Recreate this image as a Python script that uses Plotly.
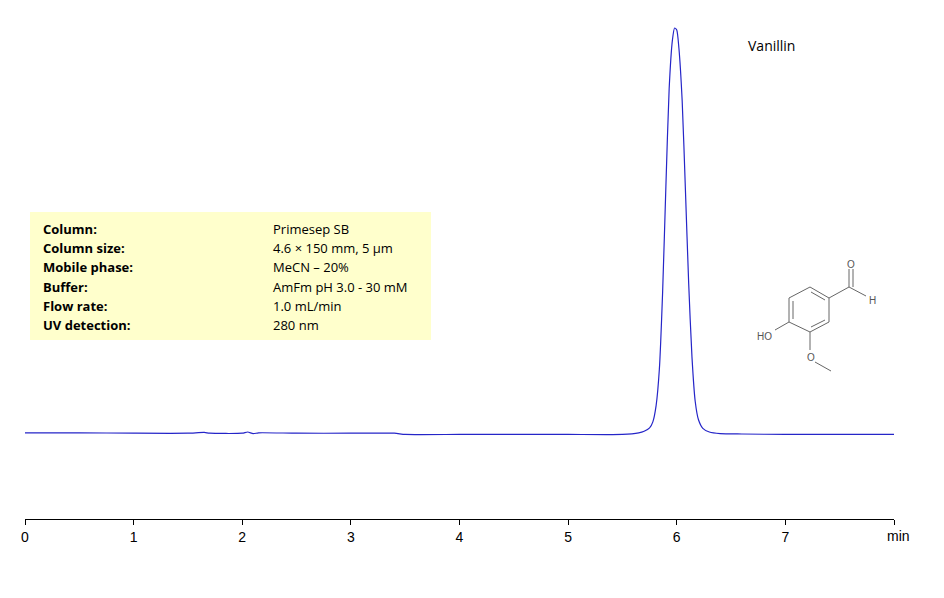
import plotly.graph_objects as go

time_min = [0, 0.5, 1.0, 1.5, 1.65, 1.7, 2.0, 2.05, 2.1, 2.15, 2.5, 3.0, 3.4, 3.5, 4.0, 4.5, 5.0, 5.5, 5.65,
            5.70, 5.75, 5.78, 5.81, 5.84, 5.87, 5.90, 5.93, 5.96, 5.98, 6.00, 6.02, 6.05, 6.08, 6.11, 6.14,
            6.17, 6.20, 6.24, 6.30, 6.40, 6.6, 7.0, 7.5, 8.0]
signal = [0.3, 0.3, 0.2, 0.2, 0.4, 0.2, 0.2, 0.5, 0.1, 0.3, 0.2, 0.2, 0.2, -0.1, -0.1, -0.1, -0.1, -0.1, 0.3,
          0.7, 1.5, 3.0, 7, 16, 35, 61, 85, 97, 100, 99.5, 95, 82, 60, 37, 19,
          8, 3.5, 1.4, 0.5, 0.1, 0.0, -0.1, -0.1, -0.1]
x_ticks = [0, 1, 2, 3, 4, 5, 6, 7, 8]
x_tick_labels = ["0", "1", "2", "3", "4", "5", "6", "7", ""]
param_names = ["Column:", "Column size:", "Mobile phase:", "Buffer:", "Flow rate:", "UV detection:"]
param_values = ["Primesep SB", "4.6 × 150 mm, 5 µm", "MeCN – 20%", "AmFm pH 3.0 - 30 mM", "1.0 mL/min", "280 nm"]

L, R, T, B = 25, 894, 20, 519
OFF = 8
def px(x, y):
    return (x - L) / (R - L), (B - y) / (B - T)

fig = go.Figure(go.Scatter(x=time_min, y=signal, mode="lines", line=dict(color="#2525c8", width=1.2, shape="spline", smoothing=0.6),
                           hoverinfo="skip"))

shapes = []
x0, y0 = px(30, 212); x1, y1 = px(431, 340)
shapes.append(dict(type="rect", xref="paper", yref="paper", x0=x0, y0=y1, x1=x1, y1=y0,
                   fillcolor="#ffffcc", line=dict(width=0), layer="below"))
bonds = [((810, 287), (829, 298)), ((829, 298), (829, 322)), ((829, 322), (810, 332)), ((810, 332), (789, 322)),
         ((789, 322), (789, 298)), ((789, 298), (810, 287)),
         ((793, 319), (793, 301)), ((811, 292), (825, 300)), ((825, 320), (811, 327)),
         ((829, 298), (849, 287)), ((849, 287), (849, 269)), ((853, 287), (853, 269)), ((849, 287), (866, 296)),
         ((789, 322), (775, 330)), ((810, 332), (810, 350)), ((815, 362), (831, 371))]
annotations = []
def ann(text, x, y, size, family="Open Sans", color="black", xanchor="center"):
    ax, ay = px(x, y)
    annotations.append(dict(text=text, x=ax, y=ay, xref="paper", yref="paper", showarrow=False,
                            xanchor=xanchor, yanchor="middle", font=dict(family=family, size=size, color=color)))

for (a, b) in bonds:
    ax, ay = px(*a); bx, by = px(*b)
    shapes.append(dict(type="line", xref="paper", yref="paper", x0=ax, y0=ay, x1=bx, y1=by,
                       line=dict(color="#666666", width=1)))
for txt, (x, y) in [("O", (851, 264)), ("H", (872, 300)), ("HO", (764, 336)), ("O", (811, 357))]:
    ann(txt, x, y, 10, family="Liberation Sans", color="#555555")
for i, (n, v) in enumerate(zip(param_names, param_values)):
    yy = 229 + i * 19.2
    ann("<b>" + n + "</b>", 41, yy, 13, xanchor="left")
    ann(v, 271, yy, 13, xanchor="left")
ann("Vanillin", 771, 45, 14)
ann("min", 898, 536, 14, family="Liberation Sans")

fig.update_layout(
    width=944, height=598, margin=dict(l=L - OFF, r=944 - R + OFF, t=T - OFF, b=598 - B + OFF),
    plot_bgcolor="white", paper_bgcolor="white", showlegend=False,
    shapes=shapes, annotations=annotations,
    xaxis=dict(range=[0, 8], tickvals=x_ticks, ticktext=x_tick_labels, showgrid=False, zeroline=False,
               showline=True, linecolor="black", linewidth=1.2, ticks="outside", ticklen=5, tickcolor="black",
               tickfont=dict(family="Liberation Sans", size=14, color="black")),
    yaxis=dict(range=[-20.93, 101.97], visible=False, showgrid=False, zeroline=False),
)
fig.write_html("out.html")
